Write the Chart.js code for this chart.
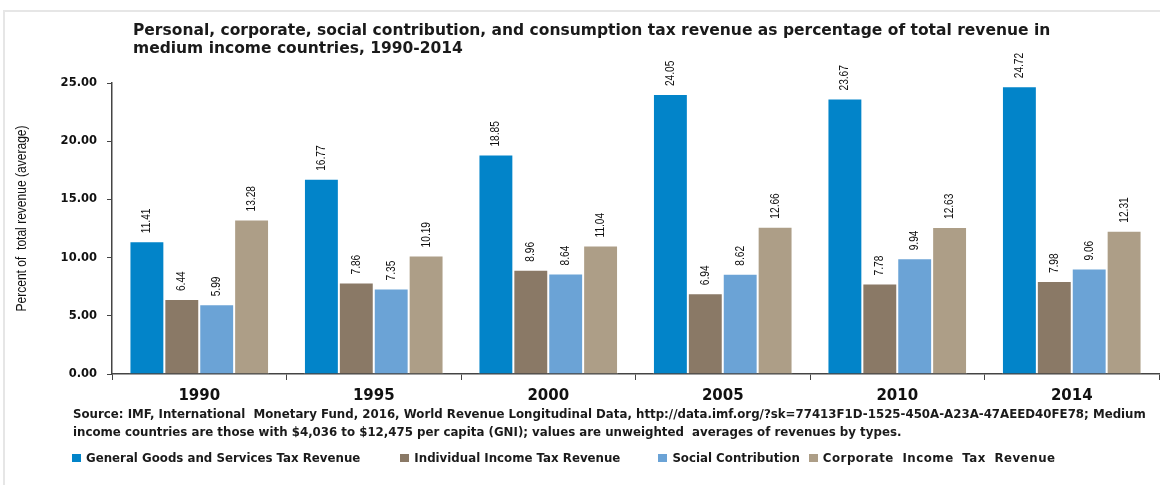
<!DOCTYPE html>
<html>
<head>
<meta charset="utf-8">
<script src="https://cdn.jsdelivr.net/npm/chart.js@4.4.0/dist/chart.umd.min.js"></script>
<style>
  body { margin: 0; background: #fff; overflow: hidden; }
  #wrap { position: relative; width: 1160px; height: 485px; overflow: hidden; }
  #title { position: absolute; left: 133px; top: 21px; font: bold 15.5px 'DejaVu Sans', sans-serif;
           color: #1a1a1a; line-height: 18px; white-space: nowrap; }
  #source { position: absolute; left: 73px; top: 405px; font: bold 11.8px 'DejaVu Sans', sans-serif;
            color: #1a1a1a; line-height: 18px; white-space: pre; }
  #legend { position: absolute; left: 72px; top: 451px; font: bold 11.8px 'DejaVu Sans', sans-serif;
            color: #1a1a1a; display: flex; white-space: nowrap; }
  #legend span.item { display: inline-flex; align-items: center; }
  #legend span.box { display: inline-block; width: 9px; height: 8px; margin-right: 5px; }
  canvas { position: absolute; left: 0; top: 0; }
</style>
</head>
<body>
<div id="wrap">
  <canvas id="chartId" width="1160" height="485"></canvas>
  <div id="title">Personal, corporate, social contribution, and consumption tax revenue as percentage of total revenue in<br>medium income countries, 1990-2014</div>
  <div id="source">Source: IMF, International  Monetary Fund, 2016, World Revenue Longitudinal Data, http://data.imf.org/?sk=77413F1D-1525-450A-A23A-47AEED40FE78; Medium
income countries are those with $4,036 to $12,475 per capita (GNI); values are unweighted  averages of revenues by types.</div>
  <div id="legend"></div>
</div>
<script>
var years = ['1990', '1995', '2000', '2005', '2010', '2014'];
var goodsServices = [11.41, 16.77, 18.85, 24.05, 23.67, 24.72];
var individualIncome = [6.44, 7.86, 8.96, 6.94, 7.78, 7.98];
var socialContribution = [5.99, 7.35, 8.64, 8.62, 9.94, 9.06];
var corporateIncome = [13.28, 10.19, 11.04, 12.66, 12.63, 12.31];
var yTicks = [0, 5, 10, 15, 20, 25];
var yTitle = 'Percent of  total revenue (average)';

// light frame round the chart
var frame = {
    id: 'frame',
    beforeDraw: function(chart) {
        var ctx = chart.ctx;
        ctx.save();
        ctx.strokeStyle = '#e6e6e6';
        ctx.lineWidth = 2;
        ctx.beginPath();
        ctx.moveTo(4, chart.height);
        ctx.lineTo(4, 11);
        ctx.lineTo(chart.width, 11);
        ctx.stroke();
        ctx.restore();
    }
};

// rotated value labels above bars + narrow y axis title
var extraText = {
    id: 'extraText',
    afterDatasetsDraw: function(chart) {
        var ctx = chart.ctx;
        ctx.save();
        ctx.font = '13px "Liberation Sans", sans-serif';
        ctx.fillStyle = '#111';
        ctx.textAlign = 'left';
        ctx.textBaseline = 'middle';
        chart.data.datasets.forEach(function(ds, i) {
            chart.getDatasetMeta(i).data.forEach(function(bar, j) {
                ctx.save();
                ctx.translate(bar.x, bar.y - 8);
                ctx.rotate(-Math.PI / 2);
                ctx.scale(0.78, 1);
                ctx.fillText(ds.data[j].toFixed(2), 0, 0);
                ctx.restore();
            });
        });

        var area = chart.chartArea;
        ctx.font = '14px "Liberation Sans", sans-serif';
        ctx.textAlign = 'center';
        ctx.translate(22, (area.top + area.bottom) / 2 - 10);
        ctx.rotate(-Math.PI / 2);
        ctx.scale(0.86, 1);
        ctx.fillText(yTitle, 0, 0);
        ctx.restore();
    }
};

function buildLegend(chart) {
    var el = document.getElementById('legend');
    var gaps = [40, 38, 9, 0];
    chart.data.datasets.forEach(function(ds, i) {
        var item = document.createElement('span');
        item.className = 'item';
        item.style.marginRight = gaps[i] + 'px';
        if (i === 3) {
            item.style.letterSpacing = '0.5px';
            item.style.wordSpacing = '4px';
        }
        var box = document.createElement('span');
        box.className = 'box';
        box.style.background = ds.backgroundColor;
        item.appendChild(box);
        item.appendChild(document.createTextNode(ds.label));
        el.appendChild(item);
    });
}

function init() {
    var chartEl = document.getElementById('chartId').getContext('2d');
    var chart = new Chart(chartEl, {
        type: 'bar',
        data: {
            labels: years,
            datasets: [
                { label: 'General Goods and Services Tax Revenue', data: goodsServices, backgroundColor: '#0284C9' },
                { label: 'Individual Income Tax Revenue', data: individualIncome, backgroundColor: '#8A7966' },
                { label: 'Social Contribution', data: socialContribution, backgroundColor: '#6BA3D6' },
                { label: 'Corporate Income Tax Revenue', data: corporateIncome, backgroundColor: '#AD9E87' }
            ]
        },
        options: {
            responsive: false,
            animation: false,
            layout: { padding: { top: 83, right: 1, left: 0, bottom: 71 } },
            datasets: {
                bar: {
                    categoryPercentage: 0.8,
                    barPercentage: 1.0,
                    borderColor: 'rgba(255,255,255,0.6)',
                    borderWidth: 1
                }
            },
            plugins: {
                legend: { display: false },
                tooltip: { enabled: false }
            },
            scales: {
                x: {
                    grid: { drawOnChartArea: false, drawTicks: true, tickLength: 6, color: '#444', offset: true },
                    border: { color: '#444', width: 1.5 },
                    ticks: { color: '#111', font: { family: 'DejaVu Sans', size: 15, weight: 'bold' }, padding: 7 },
                    afterFit: function(scale) { scale.height = 40; }
                },
                y: {
                    min: 0,
                    max: 25,
                    afterBuildTicks: function(scale) {
                        scale.ticks = yTicks.map(function(v) { return { value: v }; });
                    },
                    afterFit: function(scale) { scale.width = 112; },
                    grid: { drawOnChartArea: false, drawTicks: true, tickLength: 5, color: '#444' },
                    border: { color: '#444', width: 1.5 },
                    ticks: {
                        color: '#111',
                        padding: 10,
                        font: { family: 'DejaVu Sans', size: 11.5, weight: 'bold' },
                        callback: function(v) { return v.toFixed(2); }
                    }
                }
            }
        },
        plugins: [frame, extraText]
    });
    buildLegend(chart);
}
init();
</script>
</body>
</html>
